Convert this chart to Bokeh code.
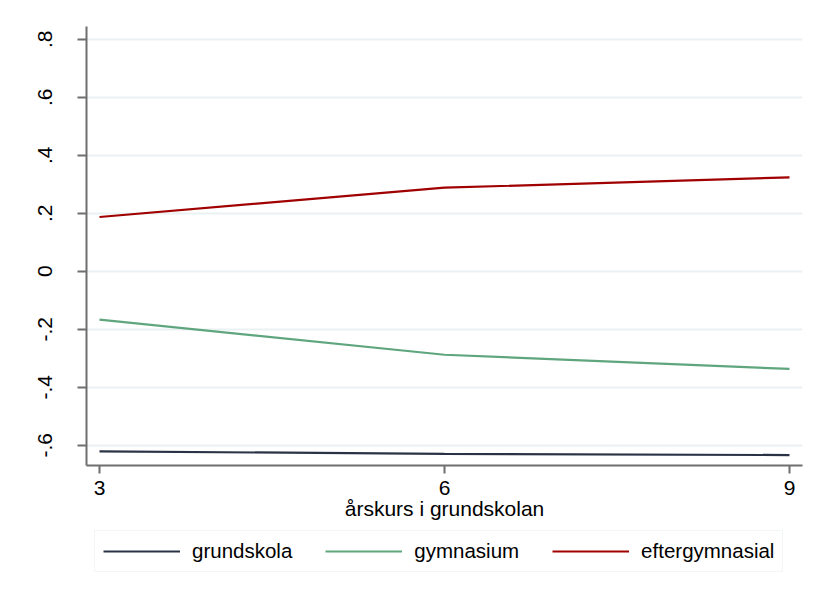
from bokeh.plotting import figure
from bokeh.models import FixedTicker, Range1d, Legend, LegendItem
from bokeh.layouts import column
from bokeh.embed import file_html
from bokeh.resources import INLINE

# Data
grade = [3, 6, 9]
grundskola = [-0.621, -0.630, -0.634]
gymnasium = [-0.167, -0.288, -0.337]
eftergymnasial = [0.187, 0.288, 0.324]
series_names = ["grundskola", "gymnasium", "eftergymnasial"]
series_colors = ["#2a3346", "#5fa67e", "#a00000"]

y_ticks = [-0.6, -0.4, -0.2, 0, 0.2, 0.4, 0.6, 0.8]
y_tick_labels = ["-.6", "-.4", "-.2", "0", ".2", ".4", ".6", ".8"]
x_ticks = [3, 6, 9]
x_title = "årskurs i grundskolan"

FONT = "Liberation Sans"
MAIN_H = 525
LEG_H = 62
series_values = [grundskola, gymnasium, eftergymnasial]

p = figure(width=811, height=MAIN_H, output_backend="svg", toolbar_location=None,
           x_range=Range1d(2.887, 9.113), y_range=Range1d(-0.670, 0.844),
           min_border_left=86, min_border_right=9, min_border_top=26,
           min_border_bottom=MAIN_H - 26 - 439)
p.outline_line_color = None
p.background_fill_color = "white"
p.border_fill_color = "white"

for vals, col in zip(series_values, series_colors):
    p.line(grade, vals, line_color=col, line_width=2.2)

# x axis
xa = p.xaxis[0]
xa.ticker = FixedTicker(ticks=x_ticks)
xa.axis_label = x_title
xa.axis_label_text_font = FONT
xa.axis_label_text_font_style = "normal"
xa.axis_label_text_font_size = "21px"
xa.axis_label_text_color = "black"
xa.axis_label_standoff = -1
xa.major_label_text_font = FONT
xa.major_label_text_font_size = "21px"
xa.major_label_text_color = "black"
xa.major_label_standoff = 7
xa.axis_line_color = "#6e6e6e"
xa.axis_line_width = 2
xa.major_tick_line_color = "#6e6e6e"
xa.major_tick_line_width = 2
xa.major_tick_out = 8
xa.major_tick_in = 0
xa.minor_tick_line_color = None

# y axis
ya = p.yaxis[0]
ya.ticker = FixedTicker(ticks=y_ticks)
ya.major_label_overrides = {t: l for t, l in zip(y_ticks, y_tick_labels)}
ya.major_label_orientation = "vertical"
ya.major_label_text_font = FONT
ya.major_label_text_font_size = "21px"
ya.major_label_text_color = "black"
ya.major_label_standoff = 25
ya.axis_line_color = "#6e6e6e"
ya.axis_line_width = 2
ya.major_tick_line_color = "#6e6e6e"
ya.major_tick_line_width = 2
ya.major_tick_out = 9
ya.major_tick_in = 0
ya.minor_tick_line_color = None

p.xgrid.grid_line_color = None
p.ygrid.ticker = FixedTicker(ticks=y_ticks)
p.ygrid.grid_line_color = "#eaf1f3"
p.ygrid.grid_line_width = 2

# Legend figure (series drawn out of view; only the legend shows)
q = figure(width=811, height=LEG_H, output_backend="svg", toolbar_location=None,
           x_range=Range1d(100, 101), y_range=Range1d(100, 101),
           x_axis_location=None, y_axis_location=None,
           min_border_left=0, min_border_right=0, min_border_top=0, min_border_bottom=0)
q.outline_line_color = None
q.grid.grid_line_color = None
q.border_fill_color = "white"
q.background_fill_color = "white"
proxies = [q.line(grade, vals, line_color=c, line_width=2.2)
           for vals, c in zip(series_values, series_colors)]

items = [LegendItem(label=n, renderers=[r]) for n, r in zip(series_names, proxies)]
legend = Legend(items=items, orientation="horizontal", location=(8, 15))
legend.label_text_font = FONT
legend.label_text_font_size = "20.5px"
legend.label_text_color = "black"
legend.glyph_width = 77
legend.glyph_height = 20
legend.label_height = 20
legend.label_standoff = 12
legend.spacing = 33
legend.padding = 8
legend.margin = 0
legend.border_line_color = "#e6eef0"
legend.border_line_width = 1.5
legend.background_fill_color = "white"
q.add_layout(legend, "center")

layout = column(p, q, spacing=0)
open("out.html", "w").write(file_html(layout, INLINE))
